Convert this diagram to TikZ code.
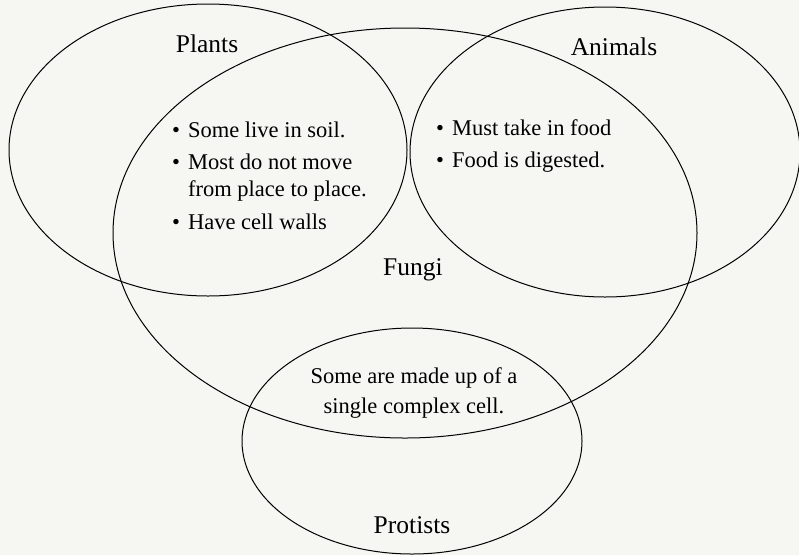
\documentclass[tikz,border=0pt]{standalone}
\usepackage{fontspec}
\setmainfont{Liberation Serif}
\usepackage{tikz}
\usetikzlibrary{shapes.geometric}
\definecolor{paper}{RGB}{246,246,242}

\begin{document}
\begin{tikzpicture}[
  x=1pt, y=-1pt,
  font=\fontsize{22.5}{27}\selectfont,
  kingdom/.style={draw, ellipse, line width=1pt, inner sep=0pt},
  kname/.style={font=\fontsize{25.5}{28}\selectfont, anchor=base, inner sep=0pt},
  facts/.style={anchor=base west, inner sep=0pt},
  shared/.style={anchor=base, inner sep=0pt}
]
\fill[paper] (0,0) rectangle (799,555);
\useasboundingbox (0,0) rectangle (799,555);
% the four kingdoms
\node[kingdom, minimum width=398pt, minimum height=292pt] (plants) at (208,150) {};
\node[kingdom, minimum width=390pt, minimum height=290pt] (animals) at (605,152) {};
\node[kingdom, minimum width=584pt, minimum height=410pt] (fungi) at (405,233) {};
\node[kingdom, minimum width=340pt, minimum height=226pt] (protists) at (412,441) {};
% names
\node[kname] (plantsname) at (207,52) {Plants};
\node[kname] (animalsname) at (614,55) {Animals};
\node[kname] (funginame) at (413,275) {Fungi};
\node[kname] (protistsname) at (412,533) {Protists};
% overlaps
\node[facts] (plantfungi) at (172,137) {\begin{tabular}[t]{@{}l@{\hspace{8pt}}l@{}}
  \textbullet & Some live in soil.\\[5pt]
  \textbullet & Most do not move\\
              & from place to place.\\[6pt]
  \textbullet & Have cell walls
\end{tabular}};
\node[facts] (animalfungi) at (436,135) {\begin{tabular}[t]{@{}l@{\hspace{8pt}}l@{}}
  \textbullet & Must take in food\\[5pt]
  \textbullet & Food is digested.
\end{tabular}};
\node[shared] (protistfungi) at (414,383) {\begin{tabular}[t]{@{}c@{}}
  Some are made up of a\\[3pt]
  single complex cell.
\end{tabular}};
\end{tikzpicture}
\end{document}
